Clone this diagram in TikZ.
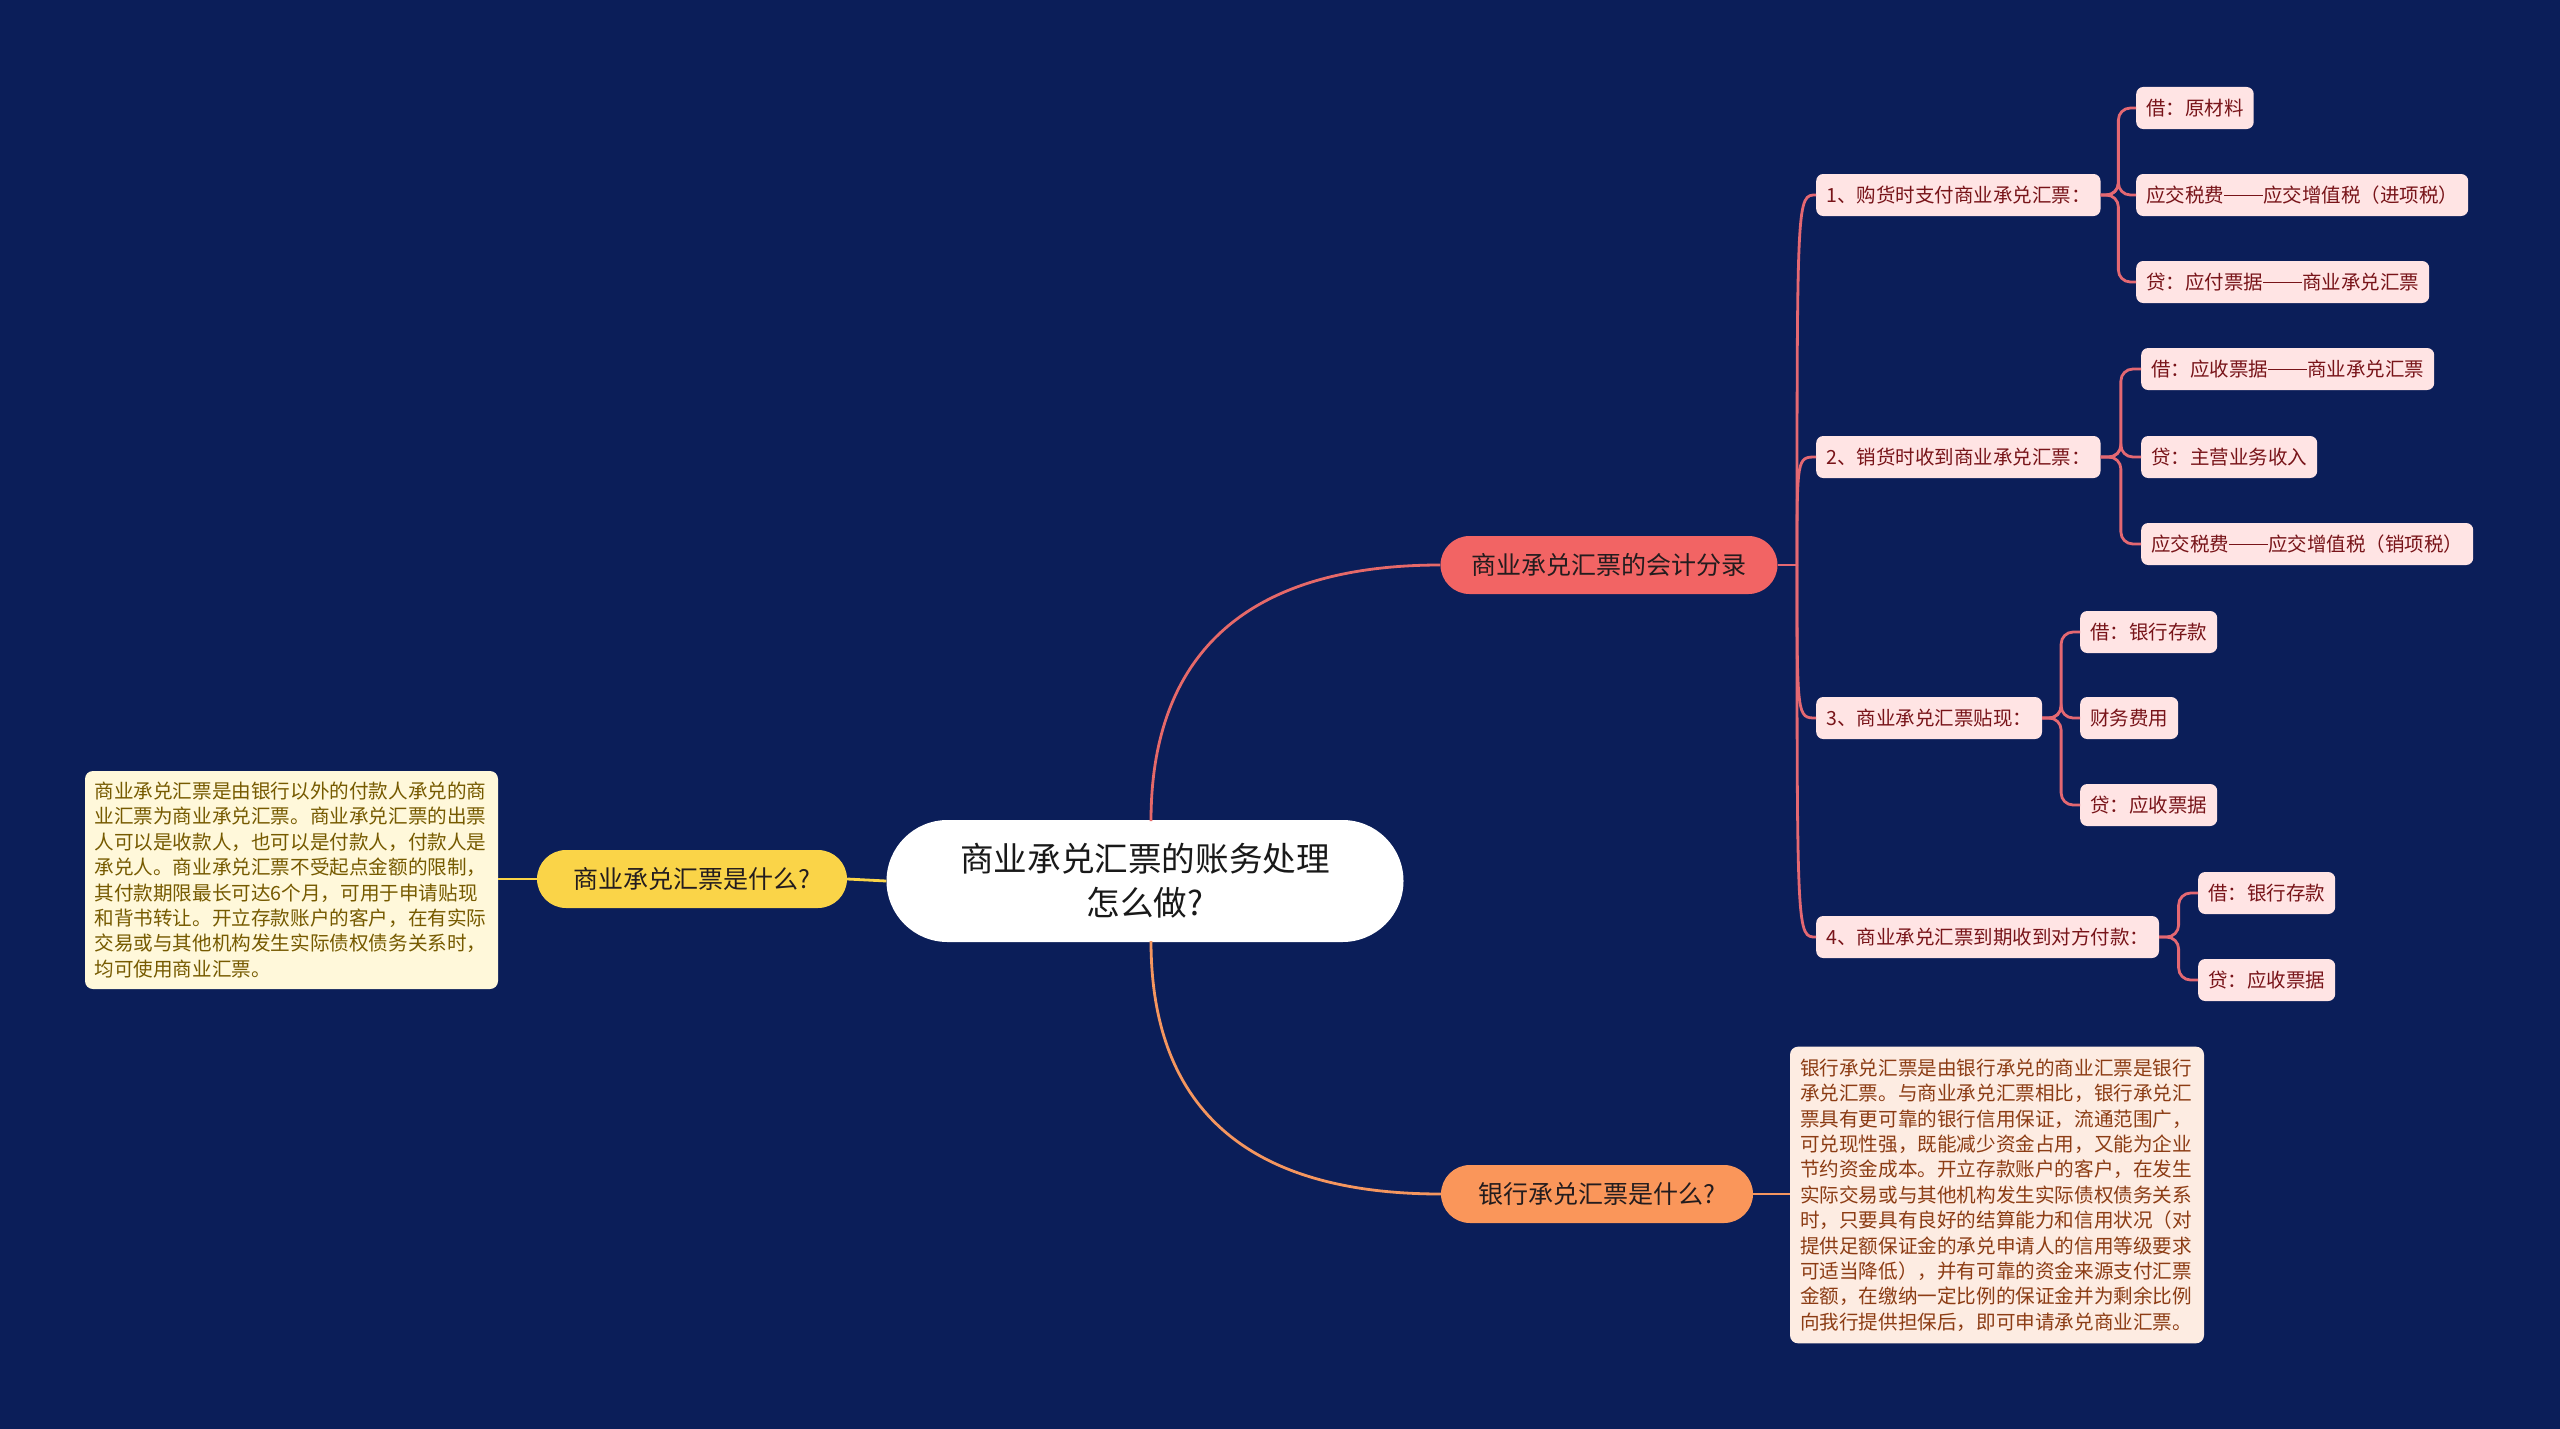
\documentclass[tikz,border=0pt]{standalone}
\usepackage{fontspec}
\setmainfont{Noto Sans CJK SC}
\usetikzlibrary{calc}
\definecolor{bg}{RGB}{11,30,89}
\definecolor{yel}{RGB}{250,212,72}
\definecolor{redn}{RGB}{242,100,100}
\definecolor{orn}{RGB}{250,150,90}
\definecolor{pinkn}{RGB}{255,228,228}
\definecolor{pinktxt}{RGB}{120,20,25}
\definecolor{ltbox}{RGB}{255,248,218}
\definecolor{lttxt}{RGB}{118,90,0}
\definecolor{rtbox}{RGB}{253,236,226}
\definecolor{rttxt}{RGB}{140,60,20}
\definecolor{redline}{RGB}{230,105,105}
\definecolor{orline}{RGB}{245,150,95}
\definecolor{lvline}{RGB}{228,104,114}
\newcommand{\cjkdash}{\rule[0.33em]{2em}{1.1pt}}
\begin{document}
\begin{tikzpicture}[x=1pt,y=-1pt,
  rootbox/.style={fill=white, rounded corners=61pt, minimum width=517pt, minimum height=122pt,
    align=center, font=\fontsize{33.6}{44}\selectfont, text={rgb,255:red,25;green,25;blue,25}, inner sep=0pt},
  mainbox/.style={rounded corners=29pt, minimum height=58pt, inner sep=0pt,
    font=\fontsize{25}{30}\selectfont, text={rgb,255:red,35;green,28;blue,30}},
  leafbox/.style={fill=pinkn, rounded corners=7pt, minimum height=42pt, inner xsep=10pt, inner ysep=0pt,
    anchor=west, font=\fontsize{19.5}{24}\selectfont, text=pinktxt},
  descbox/.style={rounded corners=8pt, align=left, font=\fontsize{19.6}{25.4}\selectfont},
  lc2/.style={draw=lvline, line width=2.8pt},
  lc3/.style={draw=lvline, line width=2.8pt, rounded corners=12pt}
]
\fill[bg] (0,0) rectangle (2560,1429);
\useasboundingbox (0,0) rectangle (2560,1429);

% root
\node[rootbox] (c) at (1145,881) {商业承兑汇票的账务处理\\怎么做?};
\coordinate (ctop) at (1151,821);
\coordinate (cbot) at (1151,941);

% main branches
\node[mainbox, fill=yel, minimum width=310pt] (y) at (692,879) {商业承兑汇票是什么?};
\node[mainbox, fill=redn, minimum width=337pt] (r) at (1609,565) {商业承兑汇票的会计分录};
\node[mainbox, fill=orn, minimum width=312pt] (o) at (1597,1194) {银行承兑汇票是什么?};

% description boxes
\node[descbox, fill=ltbox, text=lttxt, text width=394pt, inner xsep=9.5pt, inner ysep=11pt] (ld) at (291.5,880)
{商业承兑汇票是由银行以外的付款人承兑的商\\
业汇票为商业承兑汇票。商业承兑汇票的出票\\
人可以是收款人，也可以是付款人，付款人是\\
承兑人。商业承兑汇票不受起点金额的限制，\\
其付款期限最长可达6个月，可用于申请贴现\\
和背书转让。开立存款账户的客户，在有实际\\
交易或与其他机构发生实际债权债务关系时，\\
均可使用商业汇票。};

\node[descbox, fill=rtbox, text=rttxt, text width=394pt, inner xsep=10pt, inner ysep=12pt] (rd) at (1997,1195)
{银行承兑汇票是由银行承兑的商业汇票是银行\\
承兑汇票。与商业承兑汇票相比，银行承兑汇\\
票具有更可靠的银行信用保证，流通范围广，\\
可兑现性强，既能减少资金占用，又能为企业\\
节约资金成本。开立存款账户的客户，在发生\\
实际交易或与其他机构发生实际债权债务关系\\
时，只要具有良好的结算能力和信用状况（对\\
提供足额保证金的承兑申请人的信用等级要求\\
可适当降低），并有可靠的资金来源支付汇票\\
金额，在缴纳一定比例的保证金并为剩余比例\\
向我行提供担保后，即可申请承兑商业汇票。};

% level 2
\node[leafbox] (n1) at (1816,195) {1、购货时支付商业承兑汇票：};
\node[leafbox] (n2) at (1816,457) {2、销货时收到商业承兑汇票：};
\node[leafbox] (n3) at (1816,718) {3、商业承兑汇票贴现：};
\node[leafbox] (n4) at (1816,937) {4、商业承兑汇票到期收到对方付款：};

% level 3
\node[leafbox] (a1) at (2136,108) {借：原材料};
\node[leafbox] (a2) at (2136,195) {应交税费\cjkdash 应交增值税（进项税）};
\node[leafbox] (a3) at (2136,282) {贷：应付票据\cjkdash 商业承兑汇票};
\node[leafbox] (b1) at (2141,369) {借：应收票据\cjkdash 商业承兑汇票};
\node[leafbox] (b2) at (2141,457) {贷：主营业务收入};
\node[leafbox] (b3) at (2141,544) {应交税费\cjkdash 应交增值税（销项税）};
\node[leafbox] (c1) at (2080,632) {借：银行存款};
\node[leafbox] (c2) at (2080,718) {财务费用};
\node[leafbox] (c3) at (2080,805) {贷：应收票据};
\node[leafbox] (d1) at (2198,893) {借：银行存款};
\node[leafbox] (d2) at (2198,980) {贷：应收票据};

% connectors from root
\draw[draw=yel, line width=2.8pt] (c.west) -- (y.east);
\draw[draw=yel, line width=2.8pt] (y.west) -- (ld.east |- y.west);
\draw[draw=redline, line width=2.8pt] (ctop) .. controls (1151,660) and (1240,565) .. (r.west);
\draw[draw=orline, line width=2.8pt] (cbot) .. controls (1151,1102) and (1240,1194) .. (o.west);
\draw[draw=orline, line width=2.8pt] (o.east) -- (rd.west |- o.east);

% level 2 connectors
\coordinate (s) at (1797,565);
\draw[lc2] (r.east) -- (s);
\foreach \n in {n1,n2,n3,n4}{
  \draw[lc2] (s) .. controls (s |- \n.west) .. (\n.west);
}

% level 3 connectors
\coordinate (ka) at ($(n1.east)!0.5!(a2.west)$);
\foreach \m in {a1,a2,a3}{ \draw[lc3] (n1.east) -- (ka) |- (\m.west); }
\coordinate (kb) at ($(n2.east)!0.5!(b2.west)$);
\foreach \m in {b1,b2,b3}{ \draw[lc3] (n2.east) -- (kb) |- (\m.west); }
\coordinate (kc) at ($(n3.east)!0.5!(c2.west)$);
\foreach \m in {c1,c2,c3}{ \draw[lc3] (n3.east) -- (kc) |- (\m.west); }
\coordinate (kd) at ($(n4.east)!0.5!(n4.east -| d1.west)$);
\foreach \m in {d1,d2}{ \draw[lc3] (n4.east) -- (kd) |- (\m.west); }
\end{tikzpicture}
\end{document}
